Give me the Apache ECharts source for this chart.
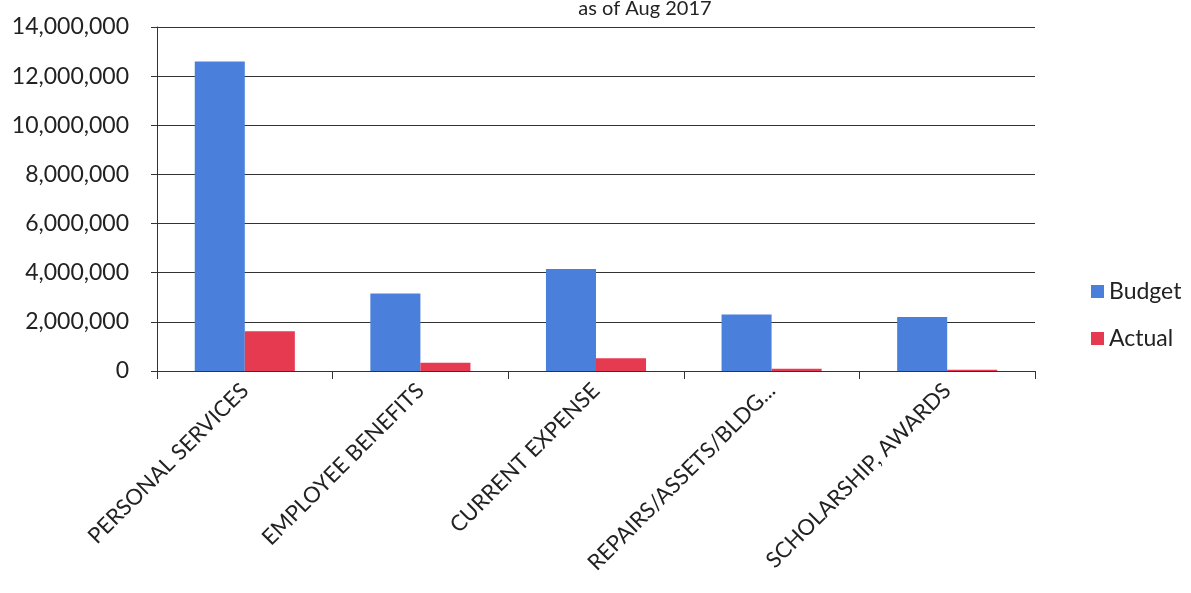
<!DOCTYPE html>
<html><head><meta charset="utf-8">
<script src="https://cdn.jsdelivr.net/npm/echarts@6/dist/echarts.min.js"></script>
<style>html,body{margin:0;padding:0;background:#fff}#c{width:1191px;height:593px}</style>
</head><body><div id="c"></div>
<script>
const categories = ["PERSONAL SERVICES", "EMPLOYEE BENEFITS", "CURRENT EXPENSE", "REPAIRS/ASSETS/BLDG...", "SCHOLARSHIP, AWARDS"];
const budget = [12600000, 3150000, 4150000, 2300000, 2200000];
const actual = [1620000, 340000, 520000, 90000, 50000];
const yTicks = {min: 0, max: 14000000, interval: 2000000};

const chart = echarts.init(document.getElementById('c'));
const font = 'Lato';
chart.setOption({
  animation: false,
  title: {text: 'as of Aug 2017', left: 640, top: -6, textAlign: 'center',
    textStyle: {fontFamily: font, fontSize: 20, fontWeight: 'normal', color: '#222'}},
  grid: {left: 157, right: 156, top: 27, bottom: 222},
  legend: {orient: 'vertical', left: 1086, top: 275, itemWidth: 13, itemHeight: 13, itemGap: 24,
    icon: 'rect', textStyle: {fontFamily: font, fontSize: 23, color: '#222'},
    data: ['Budget', 'Actual']},
  xAxis: {type: 'category', data: categories,
    axisLine: {lineStyle: {color: '#333', width: 1}},
    axisTick: {show: true, length: 8, lineStyle: {color: '#333'}},
    axisLabel: {rotate: 45, fontFamily: font, fontSize: 22, color: '#222', margin: 16, interval: 0}},
  yAxis: {type: 'value', min: yTicks.min, max: yTicks.max, interval: yTicks.interval,
    axisLine: {show: true, lineStyle: {color: '#333'}},
    axisTick: {show: true, length: 6, lineStyle: {color: '#333'}},
    splitLine: {lineStyle: {color: '#333', width: 1}},
    axisLabel: {fontFamily: font, fontSize: 23, color: '#222', margin: 28,
      formatter: v => v.toLocaleString('en-US')}},
  series: [
    {name: 'Budget', type: 'bar', data: budget, barGap: '0%', barCategoryGap: '43%',
      itemStyle: {color: '#4a80db'}},
    {name: 'Actual', type: 'bar', data: actual, itemStyle: {color: '#e63a50'}}
  ]
});
</script></body></html>
